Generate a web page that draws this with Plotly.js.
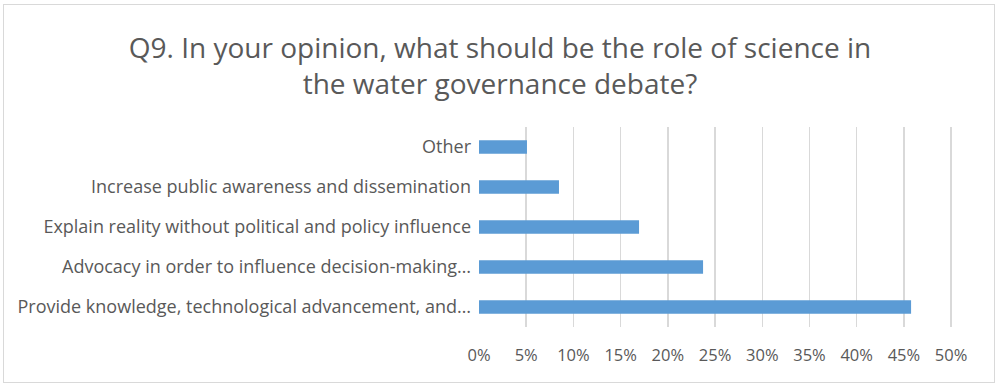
<!DOCTYPE html>
<html>
<head>
<meta charset="utf-8">
<script src="https://cdn.plot.ly/plotly-3.0.1.min.js"></script>
<style>
html,body{margin:0;padding:0;background:#fff;}
#wrap{position:absolute;left:3px;top:4px;width:992px;height:379px;border:1px solid #d9d9d9;box-sizing:border-box;}
#chart{position:absolute;left:0;top:0;width:1000px;height:388px;}
</style>
</head>
<body>
<div id="wrap"></div>
<div id="chart"></div>
<script>
const categories = [
  "Provide knowledge, technological advancement, and…",
  "Advocacy in order to influence decision-making…",
  "Explain reality without political and policy influence",
  "Increase public awareness and dissemination",
  "Other"
];
const values = [0.4576, 0.2373, 0.1695, 0.0847, 0.0508];
const tickVals = [0,0.05,0.10,0.15,0.20,0.25,0.30,0.35,0.40,0.45,0.50];
const tickText = ["0%","5%","10%","15%","20%","25%","30%","35%","40%","45%","50%"];
const titleText = "Q9. In your opinion, what should be the role of science in<br>the water governance debate?";

const fontFam = "Open Sans, Noto Sans, sans-serif";
Plotly.newPlot("chart", [{
  type: "bar",
  orientation: "h",
  y: categories,
  x: values,
  width: 0.34,
  marker: {color: "#5B9BD5"},
  hoverinfo: "x+y"
}], {
  width: 1000, height: 388,
  paper_bgcolor: "rgba(0,0,0,0)",
  plot_bgcolor: "rgba(0,0,0,0)",
  margin: {l: 479, r: 47, t: 127, b: 61},
  title: {text: titleText, x: 0.5, xanchor: "center", y: 0.851, yanchor: "middle",
          yref: "container",
          font: {family: fontFam, size: 28, color: "#595959"}},
  xaxis: {range: [0, 0.502], tickvals: tickVals, ticktext: tickText,
          showgrid: true, gridcolor: "#d9d9d9", gridwidth: 1.5, zeroline: false,
          showline: false, ticks: "", ticklen: 0, ticklabelstandoff: 16,
          tickfont: {family: fontFam, size: 16.5, color: "#595959"}},
  yaxis: {type: "category", range: [-0.5, 4.5], showgrid: false, zeroline: false,
          showline: false, ticks: "", ticklabelstandoff: 7,
          tickfont: {family: fontFam, size: 18, color: "#595959"}},
  showlegend: false
}, {displayModeBar: false, staticPlot: true});
</script>
</body>
</html>
